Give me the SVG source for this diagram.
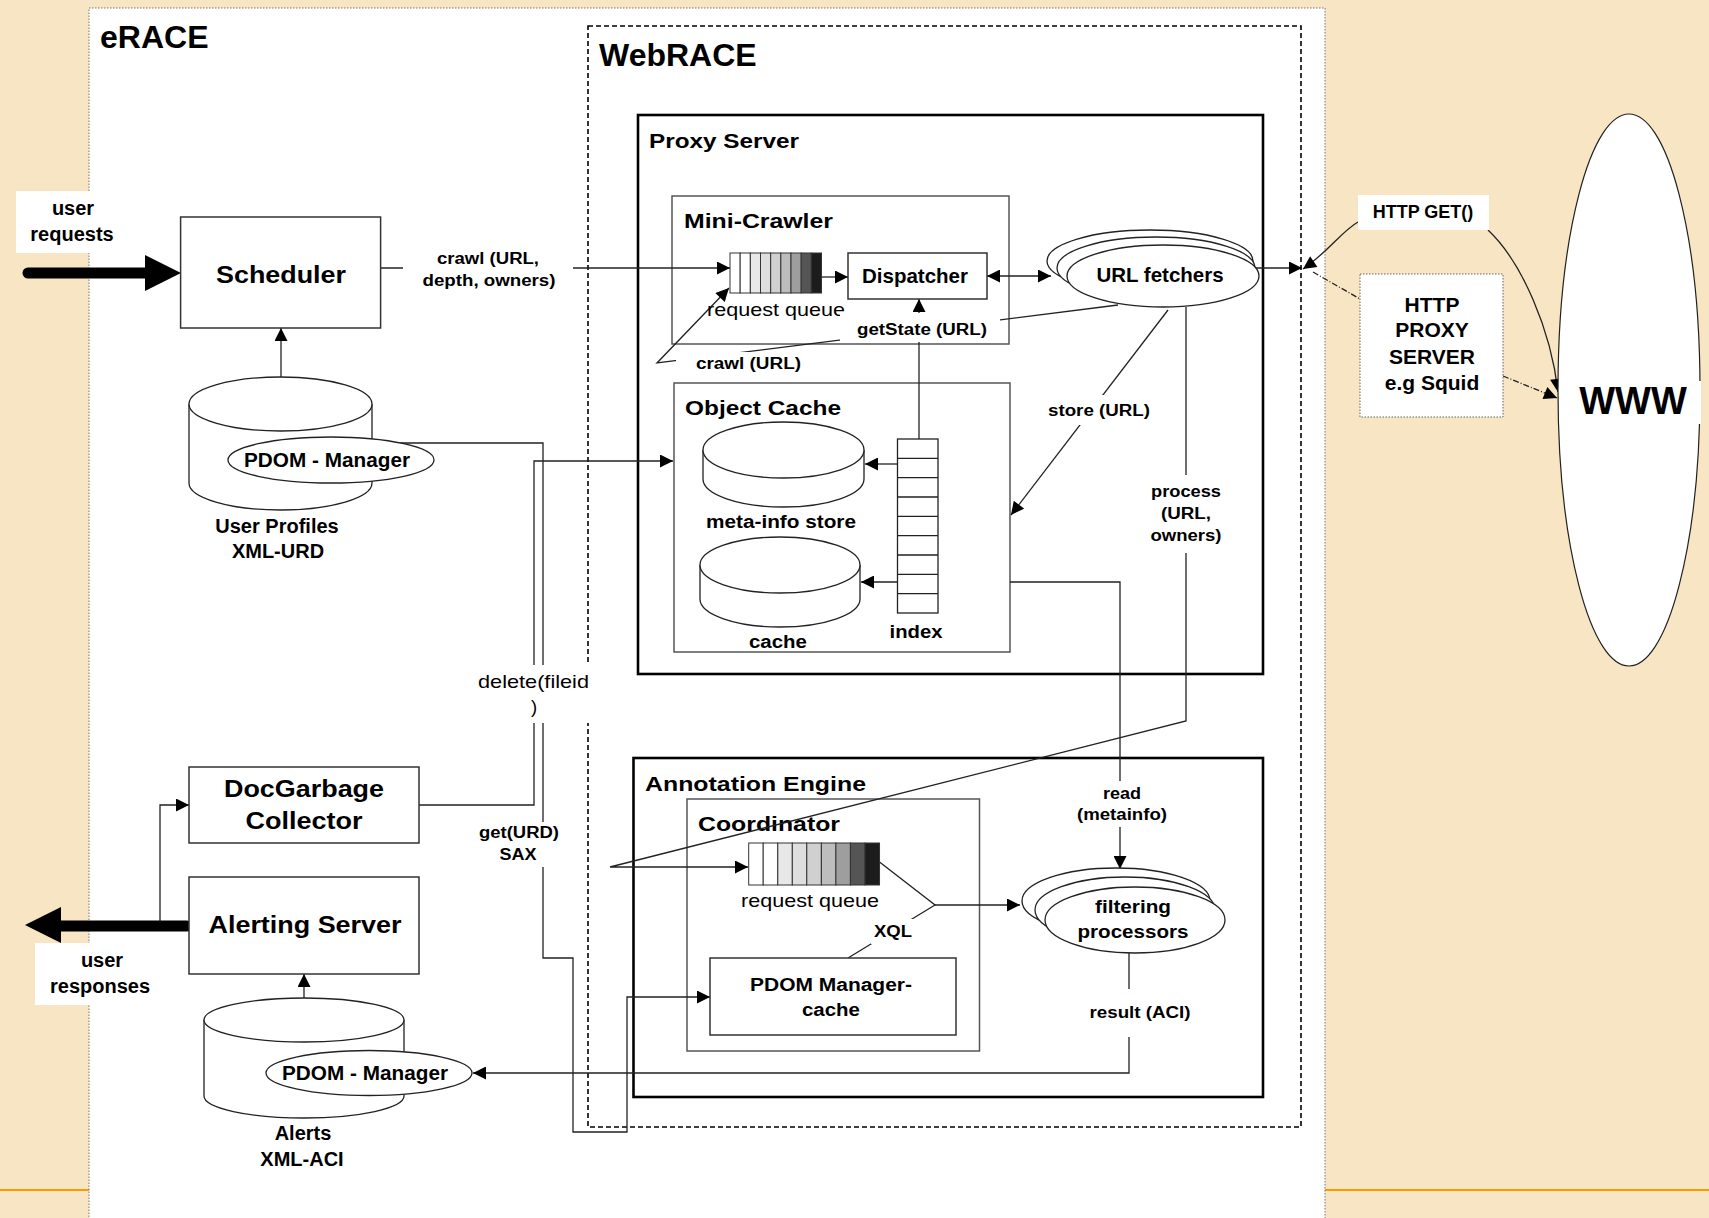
<svg xmlns="http://www.w3.org/2000/svg" width="1709" height="1218" viewBox="0 0 1709 1218">
<style>
text{font-family:"Liberation Sans",Arial,Helvetica,sans-serif;fill:#000}
.b{font-weight:bold}
.m{text-anchor:middle}
.box{fill:#fff;stroke:#333;stroke-width:1.5}
.cont{fill:none;stroke:#555;stroke-width:1.5}
.thick{fill:none;stroke:#000;stroke-width:2.6}
.c{fill:none;stroke:#222;stroke-width:1.3}
.wbg{fill:#fff}
.shape{fill:#fff;stroke:#222;stroke-width:1.3}
.l16{font-size:16px;font-weight:bold;text-anchor:middle}
</style>
<defs>
<marker id="ah" viewBox="0 0 10 10" refX="10" refY="5" markerUnits="userSpaceOnUse" markerWidth="15" markerHeight="13" orient="auto-start-reverse"><path d="M0,0L10,5L0,10z" fill="#000"/></marker>
</defs>

<rect width="1709" height="1218" fill="#F7E5C3"/>
<line x1="0" y1="1190" x2="89" y2="1190" stroke="#FF9900" stroke-width="2"/>
<line x1="1325" y1="1190" x2="1709" y2="1190" stroke="#FF9900" stroke-width="2"/>

<g id="eRACE">
<rect x="89" y="8" width="1236" height="1215" fill="#fff" stroke="#777" stroke-width="1" stroke-dasharray="1.5 1.5"/>
<text x="100" y="48" class="b" font-size="32">eRACE</text>
</g>
<g id="WebRACE">
<rect x="588" y="26" width="713" height="1101" fill="none" stroke="#000" stroke-width="1.6" stroke-dasharray="5 3"/>
<text x="599" y="66" class="b" font-size="32">WebRACE</text>
</g>
<g id="proxy-server">
<rect x="638" y="115" width="625" height="559" class="thick"/>
<text x="649" y="148" class="b" font-size="21" textLength="150" lengthAdjust="spacingAndGlyphs">Proxy Server</text>
</g>
<g id="mini-crawler">
<rect x="672" y="196" width="337" height="148" class="cont"/>
<text x="684" y="228" class="b" font-size="21" textLength="149" lengthAdjust="spacingAndGlyphs">Mini-Crawler</text>
</g>
<g id="object-cache">
<rect x="674" y="383" width="336" height="269" class="cont"/>
<text x="685" y="415" class="b" font-size="21" textLength="156" lengthAdjust="spacingAndGlyphs">Object Cache</text>
</g>
<g id="annotation-engine">
<rect x="633.5" y="758" width="629.5" height="339" class="thick"/>
<text x="645" y="791" class="b" font-size="21" textLength="221" lengthAdjust="spacingAndGlyphs">Annotation Engine</text>
</g>
<g id="coordinator">
<rect x="687" y="799" width="292.5" height="252" class="cont"/>
<text x="698" y="831" class="b" font-size="21" textLength="142" lengthAdjust="spacingAndGlyphs">Coordinator</text>
</g>

<g id="connectors">
<path class="c" d="M381,268H730" marker-end="url(#ah)"/>
<path class="c" d="M821.5,277H848" marker-end="url(#ah)"/>
<path class="c" d="M987,276H1051" marker-start="url(#ah)" marker-end="url(#ah)"/>
<path class="c" d="M1256,268H1302" marker-end="url(#ah)"/>
<path class="c" d="M1358,222C1342,231 1328,252 1303,269" marker-end="url(#ah)"/>
<path class="c" d="M1488,230C1522,262 1551,330 1558,392" marker-end="url(#ah)"/>
<path class="c" d="M1313,272L1360,299" stroke-dasharray="6 2 1 2"/>
<path class="c" d="M1503,376L1557,398" stroke-dasharray="6 2 1 2" marker-end="url(#ah)"/>
<path class="c" d="M1118,305L657,363L729,288" marker-end="url(#ah)"/>
<path class="c" d="M919,439V299" marker-end="url(#ah)"/>
<path class="c" d="M1168,310L1011,515" marker-end="url(#ah)"/>
<path class="c" d="M1186,307V721L610,867H748" marker-end="url(#ah)"/>
<path class="c" d="M1010,582H1120V869" marker-end="url(#ah)"/>
<path class="c" d="M897,464H865" marker-end="url(#ah)"/>
<path class="c" d="M897,582H861" marker-end="url(#ah)"/>
<path class="c" d="M879.5,862L935,905L848,958"/>
<path class="c" d="M935,905H1020" marker-end="url(#ah)"/>
<path class="c" d="M1129,953V1073H473" marker-end="url(#ah)"/>
<path class="c" d="M380,443H543V958H573V1132H627V997H710" marker-end="url(#ah)"/>
<path class="c" d="M419,805H534V461H673" marker-end="url(#ah)"/>
<path class="c" d="M160,926V805H189" marker-end="url(#ah)"/>
<path class="c" d="M281,403V328" marker-end="url(#ah)"/>
<path class="c" d="M304,1020V974" marker-end="url(#ah)"/>
<line x1="28" y1="273" x2="150" y2="273" stroke="#000" stroke-width="11" stroke-linecap="round"/>
<polygon points="145,255 181,273 145,291" fill="#000"/>
<line x1="187" y1="926" x2="58" y2="926" stroke="#000" stroke-width="11" stroke-linecap="round"/>
<polygon points="61,907 25,925 61,943" fill="#000"/>
</g>

<g id="user-requests">
<rect x="16" y="191" width="74" height="62" class="wbg"/>
<text x="73" y="215" class="b m" font-size="20">user</text>
<text x="72" y="241" class="b m" font-size="20">requests</text>
</g>
<g id="user-responses">
<rect x="35" y="943" width="65" height="62" class="wbg"/>
<text x="102" y="967" class="b m" font-size="20">user</text>
<text x="100" y="993" class="b m" font-size="20">responses</text>
</g>

<g id="scheduler">
<rect x="180.6" y="217" width="200" height="111" class="box"/>
<text x="281" y="283" class="b m" font-size="24" textLength="130" lengthAdjust="spacingAndGlyphs">Scheduler</text>
</g>

<g id="user-profiles">
<path d="M189,404V483A91.5,27 0 0 0 372,483V404" class="shape"/>
<ellipse cx="280.5" cy="404" rx="91.5" ry="27" class="shape"/>
<ellipse cx="331" cy="460" rx="103" ry="23" class="shape"/>
<text x="327" y="467" class="b m" font-size="20" textLength="166" lengthAdjust="spacingAndGlyphs">PDOM - Manager</text>
<text x="277" y="533" class="b m" font-size="20">User Profiles</text>
<text x="278" y="558" class="b m" font-size="20">XML-URD</text>
</g>

<g id="docgarbage-collector">
<rect x="189" y="767" width="230" height="76" class="box"/>
<text x="304" y="797" class="b m" font-size="24" textLength="160" lengthAdjust="spacingAndGlyphs">DocGarbage</text>
<text x="304" y="829" class="b m" font-size="24" textLength="117" lengthAdjust="spacingAndGlyphs">Collector</text>
</g>

<g id="alerting-server">
<rect x="189" y="877" width="230" height="97" class="box"/>
<text x="305" y="933" class="b m" font-size="24" textLength="193" lengthAdjust="spacingAndGlyphs">Alerting Server</text>
</g>

<g id="alerts">
<path d="M204,1020V1096A100,22 0 0 0 404,1096V1020" class="shape"/>
<ellipse cx="304" cy="1020" rx="100" ry="22" class="shape"/>
<ellipse cx="369" cy="1073" rx="103" ry="22.5" class="shape"/>
<text x="365" y="1080" class="b m" font-size="20" textLength="166" lengthAdjust="spacingAndGlyphs">PDOM - Manager</text>
<text x="303" y="1140" class="b m" font-size="20">Alerts</text>
<text x="302" y="1166" class="b m" font-size="20">XML-ACI</text>
</g>

<g id="request-queue-1">
<rect x="730" y="253" width="10.17" height="40" fill="#fff" stroke="#333"/>
<rect x="740.17" y="253" width="10.17" height="40" fill="#fff" stroke="#333"/>
<rect x="750.33" y="253" width="10.17" height="40" fill="#e8e8e8" stroke="#333"/>
<rect x="760.5" y="253" width="10.17" height="40" fill="#dedede" stroke="#333"/>
<rect x="770.67" y="253" width="10.17" height="40" fill="#d0d0d0" stroke="#333"/>
<rect x="780.83" y="253" width="10.17" height="40" fill="#bdbdbd" stroke="#333"/>
<rect x="791" y="253" width="10.17" height="40" fill="#9e9e9e" stroke="#333"/>
<rect x="801.17" y="253" width="10.17" height="40" fill="#555" stroke="#333"/>
<rect x="811.33" y="253" width="10.17" height="40" fill="#1c1c1c" stroke="#333"/>
<text x="776" y="316" class="m" font-size="19" textLength="138" lengthAdjust="spacingAndGlyphs">request queue</text>
</g>

<g id="dispatcher">
<rect x="848" y="253" width="139" height="46" class="box"/>
<text x="915" y="283" class="b m" font-size="20.5">Dispatcher</text>
</g>

<g id="url-fetchers">
<ellipse cx="1150" cy="261" rx="103" ry="31" class="shape"/>
<ellipse cx="1156" cy="268" rx="99" ry="31" class="shape"/>
<ellipse cx="1163" cy="276" rx="96" ry="31" class="shape"/>
<text x="1160" y="282" class="b m" font-size="20.5">URL fetchers</text>
</g>

<g id="meta-info-store">
<path d="M703,450V479A80.5,28 0 0 0 864,479V450" class="shape"/>
<ellipse cx="783.5" cy="450" rx="80.5" ry="28" class="shape"/>
<text x="781" y="528" class="b m" font-size="18" textLength="150" lengthAdjust="spacingAndGlyphs">meta-info store</text>
</g>

<g id="cache">
<path d="M700,565V599A80,28 0 0 0 860,599V565" class="shape"/>
<ellipse cx="780" cy="565" rx="80" ry="28" class="shape"/>
<text x="778" y="648" class="b m" font-size="18" textLength="58" lengthAdjust="spacingAndGlyphs">cache</text>
</g>

<g id="index">
<rect x="897.5" y="439" width="40.5" height="174" class="shape"/>
<path d="M897.5,458.3H938M897.5,477.7H938M897.5,497H938M897.5,516.3H938M897.5,535.7H938M897.5,555H938M897.5,574.3H938M897.5,593.7H938" stroke="#222" stroke-width="1.3"/>
<text x="916" y="638" class="b m" font-size="18" textLength="53" lengthAdjust="spacingAndGlyphs">index</text>
</g>

<g id="request-queue-2">
<rect x="748.7" y="843" width="14.53" height="42" fill="#fff" stroke="#333"/>
<rect x="763.2" y="843" width="14.53" height="42" fill="#fff" stroke="#333"/>
<rect x="777.8" y="843" width="14.53" height="42" fill="#e8e8e8" stroke="#333"/>
<rect x="792.3" y="843" width="14.53" height="42" fill="#dedede" stroke="#333"/>
<rect x="806.8" y="843" width="14.53" height="42" fill="#d0d0d0" stroke="#333"/>
<rect x="821.4" y="843" width="14.53" height="42" fill="#bdbdbd" stroke="#333"/>
<rect x="835.9" y="843" width="14.53" height="42" fill="#9e9e9e" stroke="#333"/>
<rect x="850.4" y="843" width="14.53" height="42" fill="#555" stroke="#333"/>
<rect x="865" y="843" width="14.53" height="42" fill="#1c1c1c" stroke="#333"/>
<text x="810" y="907" class="m" font-size="19" textLength="138" lengthAdjust="spacingAndGlyphs">request queue</text>
</g>

<g id="pdom-manager-cache">
<rect x="710" y="958" width="246" height="77" class="box"/>
<text x="831" y="991" class="b m" font-size="18" textLength="162" lengthAdjust="spacingAndGlyphs">PDOM Manager-</text>
<text x="831" y="1016" class="b m" font-size="18" textLength="58" lengthAdjust="spacingAndGlyphs">cache</text>
</g>

<g id="filtering-processors">
<ellipse cx="1116" cy="901" rx="94" ry="33" class="shape"/>
<ellipse cx="1125" cy="910" rx="90" ry="33" class="shape"/>
<ellipse cx="1135" cy="920" rx="90" ry="33" class="shape"/>
<text x="1133" y="913" class="b m" font-size="18" textLength="76" lengthAdjust="spacingAndGlyphs">filtering</text>
<text x="1133" y="938" class="b m" font-size="18" textLength="111" lengthAdjust="spacingAndGlyphs">processors</text>
</g>

<g id="http-proxy-server">
<rect x="1360" y="274" width="143" height="143" fill="#fff" stroke="#666" stroke-width="1" stroke-dasharray="1.5 1.5"/>
<text x="1432" y="312" class="b m" font-size="21">HTTP</text>
<text x="1432" y="337" class="b m" font-size="21">PROXY</text>
<text x="1432" y="364" class="b m" font-size="21">SERVER</text>
<text x="1432" y="390" class="b m" font-size="21">e.g Squid</text>
</g>

<g id="www">
<ellipse cx="1629" cy="390" rx="71" ry="276" fill="#fff" stroke="#222" stroke-width="1.2"/>
<rect x="1576" y="381" width="125" height="43" class="wbg"/>
<text x="1633" y="414" class="b m" font-size="38">WWW</text>
</g>

<g id="labels">
<rect x="1358" y="195" width="131" height="35" class="wbg"/>
<text x="1423" y="218" class="b m" font-size="18">HTTP GET()</text>

<rect x="403" y="250" width="170" height="42" class="wbg"/>
<text x="488" y="264" class="l16" textLength="102" lengthAdjust="spacingAndGlyphs">crawl (URL,</text>
<text x="489" y="286" class="l16" textLength="133" lengthAdjust="spacingAndGlyphs">depth, owners)</text>

<rect x="840" y="313" width="160" height="29" class="wbg"/>
<text x="922" y="335" class="l16" textLength="130" lengthAdjust="spacingAndGlyphs">getState (URL)</text>

<rect x="676" y="352" width="129" height="24" class="wbg"/>
<text x="748.5" y="369" class="l16" textLength="105" lengthAdjust="spacingAndGlyphs">crawl (URL)</text>

<rect x="1045" y="395" width="107" height="30" class="wbg"/>
<text x="1099" y="416" class="l16" textLength="102" lengthAdjust="spacingAndGlyphs">store (URL)</text>

<rect x="1150" y="475" width="72" height="78" class="wbg"/>
<text x="1186" y="497" class="l16" textLength="70" lengthAdjust="spacingAndGlyphs">process</text>
<text x="1186" y="519" class="l16" textLength="50" lengthAdjust="spacingAndGlyphs">(URL,</text>
<text x="1186" y="541" class="l16" textLength="71" lengthAdjust="spacingAndGlyphs">owners)</text>

<rect x="1074" y="781" width="96" height="46" class="wbg"/>
<text x="1122" y="799" class="l16" textLength="38" lengthAdjust="spacingAndGlyphs">read</text>
<text x="1122" y="820" class="l16" textLength="90" lengthAdjust="spacingAndGlyphs">(metainfo)</text>

<rect x="1086" y="989" width="108" height="48" class="wbg"/>
<text x="1140" y="1018" class="l16" textLength="101" lengthAdjust="spacingAndGlyphs">result (ACI)</text>

<rect x="871" y="919" width="44" height="25" class="wbg"/>
<text x="893" y="937" class="l16" textLength="38" lengthAdjust="spacingAndGlyphs">XQL</text>

<rect x="470" y="665" width="124" height="58" class="wbg"/>
<text x="533.5" y="688" class="m" font-size="18.5" textLength="111" lengthAdjust="spacingAndGlyphs">delete(fileid</text>
<text x="534" y="713" class="m" font-size="18.5">)</text>

<rect x="476" y="822" width="86" height="45" class="wbg"/>
<text x="519" y="838" class="l16" textLength="80" lengthAdjust="spacingAndGlyphs">get(URD)</text>
<text x="518" y="860" class="l16" textLength="37" lengthAdjust="spacingAndGlyphs">SAX</text>
</g>
</svg>
